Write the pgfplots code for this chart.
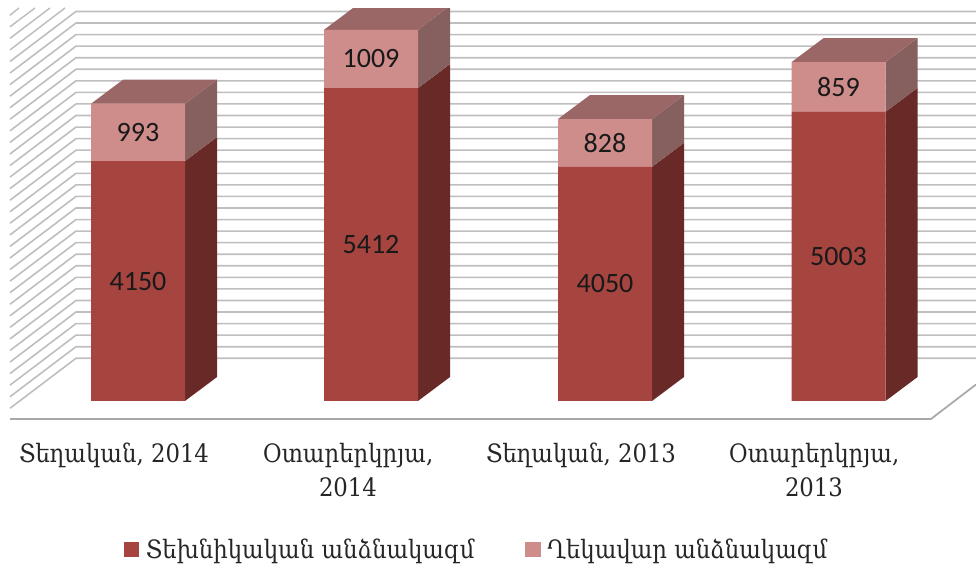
\documentclass[border=0pt]{standalone}
\usepackage{pgfplots}
\pgfplotsset{compat=1.18}
\usepackage{pgfplotstable}
\usepackage{fontspec}
\setmainfont{DejaVu Serif Condensed}
\newfontfamily\numfont{Carlito}
\definecolor{gridc}{HTML}{BEBEBE}
\definecolor{floorc}{HTML}{A8A8A8}
\definecolor{darkf}{HTML}{A6443F}
\definecolor{darks}{HTML}{692926}
\definecolor{lightf}{HTML}{CE8C8B}
\definecolor{lights}{HTML}{85605E}
\definecolor{lightt}{HTML}{9A6766}
\pgfplotstableread{
x v
138 4150
371 5412
605 4050
838.5 5003
}\tech
\pgfplotstableread{
x v
138 993
371 1009
605 828
838.5 859
}\mgmt
\newcommand\gl[2]{\addplot[gridc,line width=1.2pt] coordinates {(10,#2)(76,#1)(976,#1)};}
\newcommand\gd[3]{\addplot[gridc,line width=1.1pt] coordinates {(10,#2)(#3,#1)};}
\newcommand\face[2]{\addplot[fill=#1,draw=none] coordinates {#2} --cycle;}
\pgfplotsset{common/.style={
  at={(0pt,124.5pt)},anchor=south west,
  scale only axis,width=732pt,height=300.75pt,
  xmin=0,xmax=976,ymin=0,ymax=6937.3,clip=false}}
\begin{document}
\begin{tikzpicture}
\useasboundingbox (0,0) rectangle (732pt,425.25pt);
\begin{axis}[common,hide axis]
\gl{739}{-126}\gl{939}{74}\gl{1139}{274}\gl{1339}{474}\gl{1539}{674}\gl{1739}{874}
\gl{1939}{1074}\gl{2139}{1274}\gl{2339}{1474}\gl{2539}{1674}\gl{2739}{1874}
\gl{2939}{2074}\gl{3139}{2274}\gl{3339}{2474}\gl{3539}{2674}\gl{3739}{2874}
\gl{3939}{3074}\gl{4139}{3274}\gl{4339}{3474}\gl{4539}{3674}\gl{4739}{3874}
\gl{4939}{4074}\gl{5139}{4274}\gl{5339}{4474}\gl{5539}{4674}\gl{5739}{4874}
\gl{5939}{5074}\gl{6139}{5274}\gl{6339}{5474}\gl{6539}{5674}\gl{6739}{5874}
\gd{6799}{6074}{65}\gd{6799}{6274}{50}\gd{6799}{6474}{35}\gd{6799}{6674}{19}
\addplot[floorc,line width=1.3pt] coordinates {(10,-311)(931,-311)(976,285)};
% bar 1
\face{darks}{(185,0)(217,415)(217,4565)(185,4150)}
\face{lights}{(185,4150)(217,4565)(217,5558)(185,5143)}
\face{lightt}{(91,5143)(123,5558)(217,5558)(185,5143)}
% bar 2
\face{darks}{(418,0)(450,415)(450,5827)(418,5412)}
\face{lights}{(418,5412)(450,5827)(450,6798)(447,6798)(418,6421)}
\face{lightt}{(324,6421)(353,6798)(447,6798)(418,6421)}
% bar 3
\face{darks}{(652,0)(684,415)(684,4465)(652,4050)}
\face{lights}{(652,4050)(684,4465)(684,5293)(652,4878)}
\face{lightt}{(558,4878)(590,5293)(684,5293)(652,4878)}
% bar 4
\face{darks}{(885.5,0)(917.5,415)(917.5,5418)(885.5,5003)}
\face{lights}{(885.5,5003)(917.5,5418)(917.5,6277)(885.5,5862)}
\face{lightt}{(791.5,5862)(823.5,6277)(917.5,6277)(885.5,5862)}
\end{axis}
\begin{axis}[common,
  ybar stacked,bar width=70.5pt,
  axis line style={draw=none},
  tick style={draw=none},
  ytick=\empty,
  xtick={114,348,581,814},
  xticklabels={{Տեղական, 2014},{Օտարերկրյա,\\2014},{Տեղական, 2013},{Օտարերկրյա,\\2013}},
  xticklabel style={align=center,font=\fontsize{19}{25.5}\selectfont,text=black!85,yshift=-28pt},
  legend columns=2,
  legend style={draw=none,fill=none,at={(0.4885,-0.3705)},anchor=center,
    font=\fontsize{19}{21}\selectfont,text=black!85,
    /tikz/every odd column/.append style={column sep=3pt},
    /tikz/every even column/.append style={column sep=36pt}},
  legend image code/.code={\fill[#1] (0pt,-5.8pt) rectangle (11.6pt,5.8pt);},
  nodes near coords={\numfont\pgfmathprintnumber[1000 sep={},assume math mode=true]{\pgfplotspointmeta}},
  every node near coord/.append style={anchor=center,font=\fontsize{21}{21}\selectfont,text=black!90},
]
\addplot[fill=darkf,draw=none] table[x=x,y=v] {\tech};
\addlegendentry{Տեխնիկական անձնակազմ}
\addplot[fill=lightf,draw=none] table[x=x,y=v] {\mgmt};
\addlegendentry{Ղեկավար անձնակազմ}
\end{axis}
\end{tikzpicture}
\end{document}
